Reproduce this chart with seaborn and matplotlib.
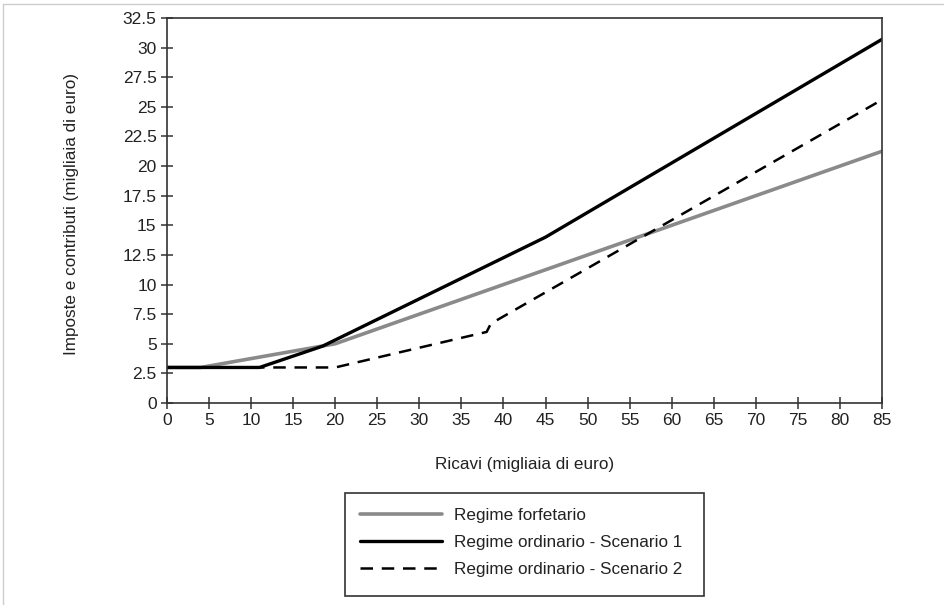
import pandas as pd
import numpy as np
import matplotlib
matplotlib.use("Agg")
import matplotlib.pyplot as plt
import seaborn as sns
from matplotlib.lines import Line2D
from matplotlib.patches import Rectangle

# Data (migliaia di euro)
forf_x = [0, 4, 20, 85]
forf_y = [3, 3, 5, 21.25]
ord1_x = [0, 11, 18.5, 45, 85]
ord1_y = [3, 3, 4.8, 14.0, 30.7]
ord2_x = [0, 20, 38, 38.5, 85]
ord2_y = [3, 3, 6.0, 6.7, 25.6]

labels = ["Regime forfetario",
          "Regime ordinario - Scenario 1",
          "Regime ordinario - Scenario 2"]
x_ticks = list(range(0, 90, 5))
y_ticks = [i * 2.5 for i in range(14)]

df = pd.concat([
    pd.DataFrame({"x": forf_x, "y": forf_y, "serie": labels[0]}),
    pd.DataFrame({"x": ord1_x, "y": ord1_y, "serie": labels[1]}),
    pd.DataFrame({"x": ord2_x, "y": ord2_y, "serie": labels[2]}),
])

sns.set_style("white")
plt.rcParams['font.family'] = ['Liberation Sans', 'DejaVu Sans']

W, H = 945, 605
fig = plt.figure(figsize=(9.45, 6.05), dpi=100)
ax = fig.add_axes([167 / W, 1 - 403 / H, (882 - 167) / W, (403 - 18) / H])

colors = {labels[0]: "#8a8a8a", labels[1]: "#000000", labels[2]: "#000000"}
widths = {labels[0]: 2.6, labels[1]: 2.4, labels[2]: 1.8}
styles = {labels[0]: "-", labels[1]: "-", labels[2]: (0, (5, 3.5))}

for lab in labels:
    sub = df[df["serie"] == lab]
    sns.lineplot(data=sub, x="x", y="y", ax=ax, color=colors[lab],
                 linewidth=widths[lab], linestyle=styles[lab],
                 estimator=None, sort=False, legend=False)

ax.set_xlim(0, 85)
ax.set_ylim(0, 32.5)
ax.set_xticks(x_ticks)
ax.set_yticks(y_ticks)
ax.set_yticklabels([f"{v:g}" for v in y_ticks])
ax.tick_params(bottom=True, left=True, direction="inout", length=9, width=1.1,
               labelsize=12.5, color="#333333", labelcolor="#222222", pad=3)
for s in ax.spines.values():
    s.set_color("#333333")
    s.set_linewidth(1.2)
ax.set_xlabel("")
ax.set_ylabel("")

fig.text(525 / W, 1 - 465 / H, "Ricavi (migliaia di euro)", ha="center",
         va="center", fontsize=12.3, color="#222222")
fig.text(72 / W, 1 - 214 / H, "Imposte e contributi (migliaia di euro)",
         ha="center", va="center", rotation=90, fontsize=12.3, color="#222222")

# legend box drawn separately so its right margin matches the reference
fig.add_artist(Rectangle((345 / W, 1 - 596 / H), (704 - 345) / W, (596 - 493) / H,
                         transform=fig.transFigure, facecolor="white",
                         edgecolor="#333333", linewidth=1.2, zorder=1))
handles = [Line2D([0], [0], color=colors[l], linewidth=widths[l], linestyle=styles[l])
           for l in labels]
leg = fig.legend(handles, labels, loc="upper left",
                 bbox_to_anchor=(345 / W, 1 - 493 / H),
                 frameon=False, fontsize=12.3, handlelength=4.8,
                 handletextpad=0.75, labelspacing=0.72, borderpad=0.85,
                 borderaxespad=0, labelcolor="#222222")
leg.set_zorder(2)

# faint page border seen at top and left
fig.add_artist(Line2D([3 / W, 3 / W], [0, 1 - 4 / H], transform=fig.transFigure,
                      color="#cccccc", linewidth=1))
fig.add_artist(Line2D([3 / W, 1], [1 - 4 / H, 1 - 4 / H], transform=fig.transFigure,
                      color="#cccccc", linewidth=1))

fig.savefig("out.png", dpi=100)
